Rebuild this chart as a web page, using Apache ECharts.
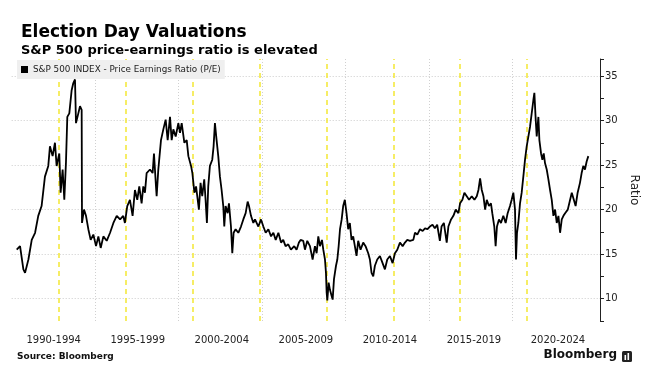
<!DOCTYPE html>
<html>
<head>
<meta charset="utf-8">
<script src="https://cdn.jsdelivr.net/npm/echarts@6/dist/echarts.min.js"></script>
<style>
html,body{margin:0;padding:0;background:#fff;}
#chart{width:654px;height:381px;}
</style>
</head>
<body>
<div id="chart"></div>
<script>
const seriesName = 'S&P 500 INDEX - Price Earnings Ratio (P/E)';
const dates = [
1990.30,1990.50,1990.70,1990.80,1991.00,1991.20,1991.40,1991.59,1991.79,1991.99,
1992.19,1992.29,1992.45,1992.59,1992.69,1992.85,1992.93,1993.05,1993.15,1993.25,
1993.33,1993.45,1993.59,1993.69,1993.79,1993.85,1993.99,1994.09,1994.19,1994.21,
1994.33,1994.45,1994.59,1994.73,1994.89,1995.05,1995.19,1995.33,1995.49,1995.69,
1995.89,1996.09,1996.29,1996.49,1996.68,1996.78,1996.92,1997.08,1997.24,1997.38,
1997.52,1997.64,1997.78,1997.88,1997.98,1998.08,1998.28,1998.44,1998.52,1998.64,
1998.68,1998.78,1998.94,1999.08,1999.22,1999.34,1999.48,1999.58,1999.68,1999.82,
1999.98,2000.08,2000.18,2000.34,2000.48,2000.58,2000.74,2000.82,2000.94,2001.04,
2001.14,2001.21,2001.31,2001.41,2001.53,2001.61,2001.69,2001.77,2001.87,2002.01,
2002.09,2002.17,2002.27,2002.37,2002.47,2002.57,2002.67,2002.73,2002.81,2002.93,
2003.01,2003.13,2003.21,2003.29,2003.41,2003.57,2003.73,2003.87,2004.01,2004.13,
2004.21,2004.33,2004.47,2004.57,2004.77,2004.93,2005.07,2005.21,2005.37,2005.53,
2005.67,2005.81,2005.97,2006.13,2006.26,2006.40,2006.56,2006.72,2006.92,2007.06,
2007.20,2007.30,2007.46,2007.56,2007.70,2007.86,2008.02,2008.16,2008.26,2008.36,
2008.46,2008.58,2008.66,2008.76,2008.82,2008.86,2008.90,2008.98,2009.06,2009.16,
2009.22,2009.30,2009.42,2009.50,2009.58,2009.66,2009.76,2009.85,2009.95,2010.05,
2010.15,2010.25,2010.35,2010.45,2010.55,2010.65,2010.75,2010.89,2011.05,2011.19,
2011.35,2011.45,2011.55,2011.65,2011.75,2011.89,2012.05,2012.21,2012.35,2012.49,
2012.65,2012.81,2012.95,2013.09,2013.25,2013.41,2013.55,2013.69,2013.85,2014.05,
2014.15,2014.29,2014.45,2014.61,2014.75,2014.90,2015.04,2015.20,2015.34,2015.48,
2015.64,2015.74,2015.88,2016.05,2016.15,2016.31,2016.45,2016.59,2016.75,2016.85,
2016.99,2017.11,2017.25,2017.39,2017.55,2017.71,2017.85,2017.95,2018.05,2018.15,
2018.25,2018.35,2018.45,2018.58,2018.70,2018.78,2018.90,2018.98,2019.06,2019.18,
2019.30,2019.44,2019.58,2019.70,2019.84,2019.94,2020.04,2020.14,2020.20,2020.26,
2020.34,2020.44,2020.54,2020.66,2020.74,2020.84,2020.94,2021.04,2021.14,2021.24,
2021.30,2021.38,2021.44,2021.54,2021.60,2021.70,2021.78,2021.86,2021.94,2022.04,
2022.14,2022.24,2022.34,2022.44,2022.54,2022.64,2022.74,2022.84,2022.94,2023.04,
2023.14,2023.30,2023.44,2023.54,2023.63,2023.77,2023.89,2024.03,2024.13,2024.23,
2024.33,2024.43,2024.53
];
const peRatio = [
15.5,15.9,13.3,12.9,14.4,16.6,17.4,19.3,20.4,23.7,
24.9,27.1,26.0,27.5,24.9,26.3,21.9,24.5,21.1,25.3,
30.4,30.8,33.4,34.2,34.6,29.7,30.8,31.6,31.2,18.5,
20.0,19.3,17.8,16.6,17.2,15.9,17.0,15.7,17.0,16.5,
17.4,18.5,19.3,18.9,19.3,18.5,20.4,21.1,19.3,22.2,
21.1,22.6,20.7,22.6,21.9,24.1,24.5,24.1,26.3,22.6,
21.5,24.5,27.8,29.0,30.1,27.8,30.4,27.8,29.0,28.2,
29.7,28.6,29.7,27.5,27.8,26.0,24.9,24.1,21.9,22.6,
21.1,20.0,23.0,21.5,23.4,21.1,18.5,22.6,24.9,25.6,
27.1,29.7,27.8,26.0,23.7,22.2,20.4,18.1,20.4,19.6,
20.7,18.1,15.1,17.4,17.8,17.4,18.1,18.9,19.6,20.9,
20.4,19.3,18.5,18.9,18.1,18.9,18.1,17.4,17.8,17.0,
17.4,16.6,17.4,16.3,16.6,15.9,16.1,15.5,15.9,15.5,
16.3,16.6,16.5,15.5,16.5,15.9,14.4,15.9,15.1,17.0,
15.9,16.6,15.5,14.4,12.9,10.7,9.8,11.8,11.0,10.3,
9.9,12.2,13.7,14.4,15.9,17.8,18.9,20.4,21.1,19.6,
17.8,18.5,16.6,17.0,15.9,14.8,16.5,15.5,16.3,15.9,
15.1,14.4,12.9,12.5,13.7,14.4,14.8,14.0,13.3,14.4,
14.8,14.0,15.1,15.5,16.3,15.9,16.3,16.6,16.5,16.6,
17.4,17.2,17.8,17.6,17.9,17.8,18.1,18.3,17.9,18.3,
16.5,18.1,18.5,16.3,18.1,18.9,19.3,20.0,19.6,20.7,
21.1,21.9,21.5,21.1,21.5,21.1,21.5,22.2,23.5,22.2,
21.5,20.0,21.1,20.4,20.7,19.6,18.1,15.9,18.1,18.9,
18.5,19.3,18.5,19.6,20.4,21.1,21.9,20.0,14.4,17.4,
18.5,20.7,21.9,24.1,25.6,27.1,28.2,29.3,30.8,32.3,
33.1,30.1,28.2,30.4,27.8,26.3,25.6,26.3,25.2,24.5,
23.4,22.2,21.1,19.3,20.0,18.5,19.3,17.4,18.9,19.3,
19.6,20.0,21.1,21.9,22.1,20.4,21.9,23.0,24.1,24.9,
24.5,25.4,26.0
];
const electionDates = [1992.84, 1996.85, 2000.85, 2004.84, 2008.84, 2012.85, 2016.85, 2020.84];
const gridYears = [1995, 2000, 2005, 2010, 2015, 2020];
const yGridValues = [10, 15, 20, 25, 30, 35];
const periodLabels = ['1990-1994','1995-1999','2000-2004','2005-2009','2010-2014','2015-2019','2020-2024'];

const FONT = 'DejaVu Sans';
const seriesData = dates.map((d, i) => [d, peRatio[i]]);

const markData = [];
gridYears.forEach(y => markData.push({xAxis: y, lineStyle: {color: '#d0d0d0', width: 1, type: [1, 2]}}));
yGridValues.forEach(v => markData.push({yAxis: v, lineStyle: {color: '#cccccc', width: 1, type: [1, 2]}}));
electionDates.forEach(d => markData.push({xAxis: d, lineStyle: {color: '#f4e833', width: 1.5, type: [5, 4]}}));

const chart = echarts.init(document.getElementById('chart'), null, {renderer: 'canvas'});
chart.setOption({
  backgroundColor: '#ffffff',
  animation: false,
  title: [
    {text: 'Election Day Valuations', left: 16, top: 19,
     textStyle: {fontFamily: FONT, fontSize: 17, fontWeight: 'bold', color: '#000'}},
    {text: 'S&P 500 price-earnings ratio is elevated', left: 16, top: 39,
     textStyle: {fontFamily: FONT, fontSize: 13, fontWeight: 'bold', color: '#000'}}
  ],
  legend: {
    data: [seriesName], left: 17, top: 60, padding: [5, 4, 5, 4], z: 20,
    backgroundColor: '#efefef', icon: 'rect', itemWidth: 7, itemHeight: 7,
    textStyle: {fontFamily: FONT, fontSize: 8.8, color: '#222'}
  },
  grid: {left: 11.7, right: 54, top: 59, height: 262, containLabel: false},
  xAxis: [
    {type: 'value', min: 1990, max: 2025.23, show: true,
     axisLine: {show: false}, axisTick: {show: false}, axisLabel: {show: false}, splitLine: {show: false}},
    {type: 'category', data: periodLabels, position: 'bottom', boundaryGap: true,
     axisLine: {show: false}, axisTick: {show: false}, splitLine: {show: false},
     axisLabel: {fontFamily: FONT, fontSize: 10, color: '#222', margin: 14}}
  ],
  yAxis: {
    type: 'value', position: 'right', min: 7.5, max: 36.9, interval: 2.5,
    name: 'Ratio', nameLocation: 'middle', nameRotate: -90, nameGap: 17,
    nameTextStyle: {fontFamily: FONT, fontSize: 12, color: '#222'},
    axisLine: {show: true, lineStyle: {color: '#222', width: 1}},
    axisTick: {show: true, inside: false, length: 4, lineStyle: {color: '#222'}},
    axisLabel: {fontFamily: FONT, fontSize: 10, color: '#222', margin: 5,
      formatter: v => (Math.abs(v % 5) < 1e-6 ? String(v) : '')},
    splitLine: {show: false}
  },
  series: [
    {type: 'line', name: 'guides', data: [], z: 1, silent: true,
     markLine: {silent: true, z: 1, symbol: ['none', 'none'], label: {show: false}, animation: false, data: markData}},
    {type: 'line', name: seriesName, data: seriesData, showSymbol: false, z: 3,
     lineStyle: {color: '#000', width: 1.8}, itemStyle: {color: '#000'}}
  ],
  graphic: [
    {type: 'text', left: 17, top: 352,
     style: {text: 'Source: Bloomberg', font: 'bold 9px "DejaVu Sans"', fill: '#111'}},
    {type: 'text', right: 37, top: 349,
     style: {text: 'Bloomberg', font: 'bold 12px "DejaVu Sans"', fill: '#111'}},
    {type: 'group', left: 622, top: 351, children: [
      {type: 'rect', shape: {x: 0, y: 0, width: 10, height: 11, r: 1.5}, style: {fill: '#222'}},
      {type: 'rect', shape: {x: 2.5, y: 4, width: 1.6, height: 5}, style: {fill: '#fff'}},
      {type: 'rect', shape: {x: 5.5, y: 2, width: 1.6, height: 7}, style: {fill: '#fff'}}
    ]}
  ]
});
</script>
</body>
</html>
